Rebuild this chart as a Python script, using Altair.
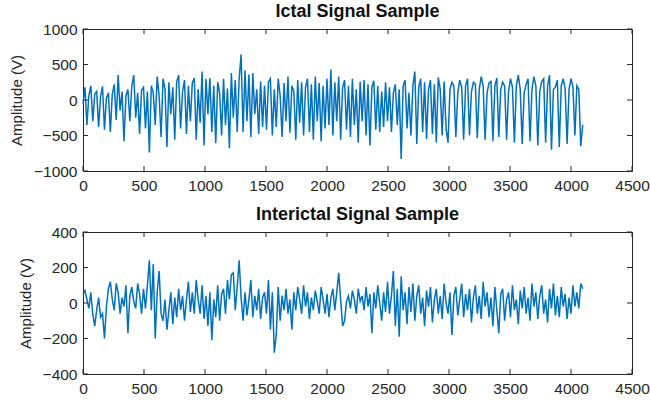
import altair as alt
import pandas as pd

STEP = 16  # sample spacing of the read-off points

ictal = [
    -50, 180, -350, 60, 200, -300, 80, 120, -380, 50, 190, -420, 30, 100, -450, 80,
    220, -280, 350, -150, 120, -580, 60, 150, -300, 200, 350, -250, 100, -480, 140, 180,
    -400, 120, -740, 200, 100, -350, 330, 60, -520, 300, 150, -660, 250, -200, 180, -560,
    260, 350, -400, 120, 280, -480, 200, -300, 240, 310, -560, 150, -320, 400, -640,
    300, -200, 310, -450, 200, -610, 250, 100, -500, 300, -350, 160, -680, 380, -250, 280,
    -450, 300, 640, -450, 420, -300, 360, -520, 380, -200, 150, -480, 260, -380, 200,
    -420, 250, 300, -500, 150, -380, 300, 60, -520, 240, -300, 330, -460, 200, 120, -560,
    280, -320, 250, -500, 180, 300, -450, 220, -560, 330, -300, 240, -580, 200, -400,
    300, -350, 430, -500, 250, -300, 330, -560, 180, 280, -420, 200, -520, 300, -350, 150,
    -600, 260, -300, 280, -500, 220, -640, 180, 270, -420, 200, -450, 120, -380, 250,
    -300, 180, -450, 100, 220, -350, 150, -830, 200, 280, -400, 100, -500, 200, 400, -620,
    180, 300, -450, 250, -550, 150, 280, -480, 220, -600, 320, 150, -500, 260, -400,
    -600, 150, 250, 200, -520, 100, 280, 180, -560, 200, 300, -500, 120, 250, 220, -540,
    150, 330, 200, -560, 100, 240, 260, -580, 200, 310, -520, 150, 250, 200, -560,
    120, 300, 180, -600, 200, 350, 150, -620, 100, 220, 300, -580, 150, 330, 200, -640,
    120, 260, 300, -600, 200, 350, -700, 150, 180, 280, -660, 200, 300, 160, -620,
    150, 300, 180, -500, 200, 150, -650, -350,
]

interictal = [
    50, 70, 20, -30, 60, -60, -130, -40, 30, -80, -60, -200, -20, 80, 120, 20,
    -40, 110, 60, -60, 30, -20, 100, -170, 40, 90, 10, -30, 110, 50, -60, 80,
    -30, 100, 240, -40, 220, -200, 60, 180, -60, -100, 20, -150, -40, 60, -120, 30,
    -80, 80, -40, 40, -100, 20, 120, -50, 60, -60, 130, 20, -60, 100, -90,
    40, -130, 60, -210, 20, -80, 100, -100, 50, 80, -60, 130, 20, 160, 170, -40,
    90, 240, 30, -100, 60, -70, 20, 130, -80, 40, -40, 80, -90, 30, 60,
    -60, 130, -150, 60, -280, -180, 90, -100, 40, -40, 80, -60, 20, -150, 60, -40,
    90, 20, -60, 100, -20, 60, -90, 30, -40, 70, 10, -60, 90, 20, -60,
    50, -80, 30, 80, -40, 60, 170, 20, -130, -100, 10, 40, -30, 70, 20, -60,
    80, 10, 40, -40, 90, -20, 50, -170, 60, -30, 100, 0, -100, 60, -50,
    120, -60, 40, 180, -130, 80, -190, 150, -40, 60, -120, 90, -50, 110, -100, 40,
    100, -60, 30, -130, 70, -20, 90, -110, 20, 80, -60, 40, -90, 110, 0,
    -60, 60, -180, 40, 90, -70, 20, 110, -80, 50, -40, 80, -110, 30, 100, -60,
    40, -90, 120, -20, 60, -80, 30, -130, 90, -40, -170, 50, 80, -100, 20,
    60, -80, 100, -40, 20, -120, 70, -30, 90, -60, 30, -100, 110, -20, 60, -90,
    40, 100, -60, 20, -110, 80, -30, 110, -70, 40, -80, 90, -20, 50, -90,
    30, -60, 100, -20, 60, -30, 110, 80,
]

x_ticks = [0, 500, 1000, 1500, 2000, 2500, 3000, 3500, 4000, 4500]
ictal_ticks = [-1000, -500, 0, 500, 1000]
inter_ticks = [-400, -200, 0, 200, 400]

W, H = 549, 142
INK = "#262626"
FONT = "Liberation Sans"


def panel(values, title, yticks):
    df = pd.DataFrame({"Sample": [i * STEP for i in range(len(values))],
                       "Amplitude": values})
    xaxis = alt.Axis(values=x_ticks, title=None, grid=False, domain=False,
                     ticks=False, labelFontSize=15.5, labelColor=INK,
                     labelPadding=7, labelFlush=False, format="d", labelFont=FONT)
    yaxis = alt.Axis(values=yticks, title="Amplitude (V)", grid=False,
                     domain=False, ticks=False, labelFontSize=15.5, labelColor=INK,
                     labelPadding=6, format="d", labelFont=FONT,
                     titleFontSize=15, titleFontWeight="normal", titleColor=INK,
                     titleFont=FONT, titlePadding=9)
    xs = alt.Scale(domain=[0, 4500], nice=False)
    ys = alt.Scale(domain=[yticks[0], yticks[-1]], nice=False)

    line = alt.Chart(df).mark_line(color="#0072BD", strokeWidth=1.5).encode(
        x=alt.X("Sample:Q", scale=xs, axis=xaxis),
        y=alt.Y("Amplitude:Q", scale=ys, axis=yaxis),
    )
    xt = pd.DataFrame({"Sample": x_ticks})
    yt = pd.DataFrame({"Amplitude": yticks})
    top_t = alt.Chart(xt).mark_rule(color=INK).encode(
        x=alt.X("Sample:Q", scale=xs, axis=xaxis), y=alt.value(0), y2=alt.value(5))
    bot_t = alt.Chart(xt).mark_rule(color=INK).encode(
        x=alt.X("Sample:Q", scale=xs, axis=xaxis), y=alt.value(H), y2=alt.value(H - 5))
    left_t = alt.Chart(yt).mark_rule(color=INK).encode(
        y=alt.Y("Amplitude:Q", scale=ys, axis=yaxis), x=alt.value(0), x2=alt.value(5))
    right_t = alt.Chart(yt).mark_rule(color=INK).encode(
        y=alt.Y("Amplitude:Q", scale=ys, axis=yaxis), x=alt.value(W), x2=alt.value(W - 5))

    return alt.layer(line, top_t, bot_t, left_t, right_t).properties(
        width=W, height=H,
        title=alt.Title(title, fontSize=18, fontWeight="bold", color="#111111",
                        font=FONT, offset=1),
    )


chart = alt.vconcat(
    panel(ictal, "Ictal Signal Sample", ictal_ticks),
    panel(interictal, "Interictal Signal Sample", inter_ticks),
    spacing=11,
).properties(
    padding={"left": 8, "top": 2, "right": 0, "bottom": 0},
    background="white",
).configure_view(stroke=INK, strokeWidth=1)

chart.save("out.html", embed_options={"renderer": "svg", "actions": False})
